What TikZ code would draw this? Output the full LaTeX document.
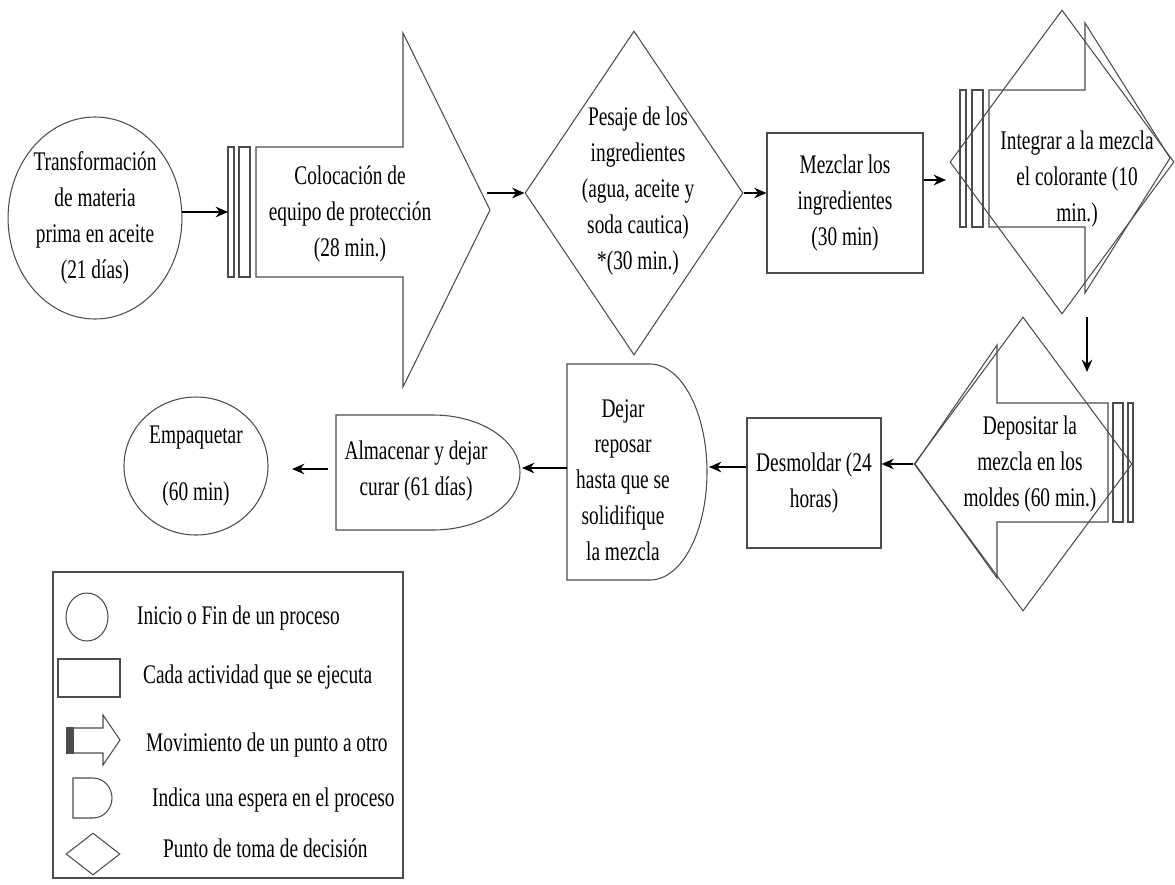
\documentclass[tikz,border=0pt]{standalone}
\usepackage{fontspec}
\setmainfont{Liberation Serif}[FakeStretch=0.72]
\usetikzlibrary{shapes.geometric, arrows, arrows.meta}
\tikzstyle{arrow} = [line width=1pt,->,>={Stealth[length=7pt,width=6pt]}]
\tikzstyle{outline} = [draw=black!70, line width=0.6pt]
\tikzstyle{txt} = [align=center, inner sep=0pt]

\begin{document}
\begin{tikzpicture}[x=0.2mm, y=-0.2mm, font={\fontsize{15.3}{20.4}\selectfont}]
    \useasboundingbox (0,0) rectangle (1175,884);

    % Fila de arriba
    \node[ellipse, outline, txt, minimum width=34mm, minimum height=40.4mm] (trans) at (95,218) {Transformación\\de materia\\prima en aceite\\(21 días)};

    \draw[outline] (228,147) rectangle (234,277);
    \draw[outline] (239,147) rectangle (250,277);
    \draw[outline] (256,147) -- (403,147) -- (403,33) -- (490,210) -- (403,387) -- (403,277) -- (256,277) -- cycle;
    \node[txt] (coloc) at (350,214) {Colocación de\\equipo de protección\\(28 min.)};
    \coordinate (colocW) at (228,212);
    \coordinate (colocE) at (487,0);

    \node[diamond, outline, minimum width=43.6mm, minimum height=64.8mm, inner sep=0pt] (pesaje) at (634,193) {};
    \node[txt] (pesajetxt) at (638,191) {Pesaje de los\\ingredientes\\(agua, aceite y\\soda cautica)\\*(30 min.)};

    \node[rectangle, outline, txt, minimum width=31.2mm, minimum height=28mm] (mezcla) at (845,203) {Mezclar los\\ingredientes\\(30 min)};

    \node[diamond, outline, minimum width=44.8mm, minimum height=60.8mm, inner sep=0pt] (integ) at (1062,162) {};
    \draw[outline] (960,90) rectangle (966,227);
    \draw[outline] (972,90) rectangle (983,227);
    \draw[outline] (989,90) -- (1085,90) -- (1085,23) -- (1170,158) -- (1085,293) -- (1085,227) -- (989,227) -- cycle;
    \node[txt] (integtxt) at (1077,179) {Integrar a la mezcla\\el colorante (10\\min.)};
    \coordinate (integW) at (946,180);
    \coordinate (integS) at (1087,317);

    % Fila de abajo
    \node[diamond, outline, minimum width=43.6mm, minimum height=58.8mm, inner sep=0pt] (depo) at (1023,464) {};
    \draw[outline] (1128,403) rectangle (1133,522);
    \draw[outline] (1113,403) rectangle (1123,522);
    \draw[outline] (1108,403) -- (997,403) -- (997,345) -- (915,464) -- (997,578) -- (997,522) -- (1108,522) -- cycle;
    \node[txt] (depotxt) at (1030,464) {Depositar la\\mezcla en los\\moldes (60 min.)};
    \coordinate (depoN) at (1087,372);

    \node[rectangle, outline, txt, minimum width=26.8mm, minimum height=26mm] (desm) at (814,483) {Desmoldar (24\\horas)};

    \draw[outline] (567,364) -- (650,364) arc[start angle=90, end angle=-90, x radius=11.4mm, y radius=21.6mm] -- (567,580) -- cycle;
    \node[txt] (dejar) at (623,480) {Dejar\\reposar\\hasta que se\\solidifique\\la mezcla};
    \coordinate (dejarE) at (709,467);
    \coordinate (dejarW) at (567,468);

    \draw[outline] (336,415) -- (433,415) arc[start angle=90, end angle=-90, x radius=17.4mm, y radius=11.5mm] -- (336,530) -- cycle;
    \node[txt] (alm) at (416,471) {Almacenar y dejar\\curar (61 días)};
    \coordinate (almE) at (522,468);
    \coordinate (almW) at (328,469);

    \node[ellipse, outline, txt, minimum width=28.8mm, minimum height=27.6mm] (emp) at (196,466) {Empaquetar\\[12pt](60 min)};
    \coordinate (empE) at (292,469);

    % Flechas
    \draw[arrow] (trans.east |- colocW) -- (colocW);
    \draw[arrow] (colocE |- pesaje.west) -- (pesaje.west);
    \draw[arrow] (pesaje.east) -- (pesaje.east -| mezcla.west);
    \draw[arrow] (mezcla.east |- integW) -- (integW);
    \draw[arrow] (integS) -- (depoN);
    \draw[arrow] (depo.west) -- (depo.west -| desm.east);
    \draw[arrow] (desm.west |- dejarE) -- (dejarE);
    \draw[arrow] (dejarW) -- (almE);
    \draw[arrow] (almW) -- (empE);

    % Simbologia
    \draw[outline] (53,572) rectangle (403,878);
    \node[ellipse, outline, minimum width=8.4mm, minimum height=9.6mm] (legcirc) at (87,617) {};
    \node[anchor=west] (legcirctxt) at (131,618) {Inicio o Fin de un proceso};
    \node[rectangle, outline, minimum width=12.4mm, minimum height=7.6mm] (legrect) at (89,678) {};
    \node[anchor=west] (legrecttxt) at (137,677) {Cada actividad que se ejecuta};
    \draw[outline, line width=1.2pt] (67,728) rectangle (69,753);
    \draw[outline] (71,728) rectangle (73,753);
    \draw[outline] (73,728) -- (103,728) -- (103,715) -- (120,740) -- (103,765) -- (103,753) -- (73,753);
    \node[anchor=west] (legmovtxt) at (140,745) {Movimiento de un punto a otro};
    \draw[outline] (73,778) -- (93,778) arc[start angle=90, end angle=-90, x radius=3.8mm, y radius=4mm] -- (73,818) -- cycle;
    \node[anchor=west] (legesptxt) at (146,800) {Indica una espera en el proceso};
    \node[diamond, outline, minimum width=10.8mm, minimum height=8.4mm, inner sep=0pt] (legdiam) at (93,854) {};
    \node[anchor=west] (legdiamtxt) at (157,848) {Punto de toma de decisión};
\end{tikzpicture}
\end{document}
